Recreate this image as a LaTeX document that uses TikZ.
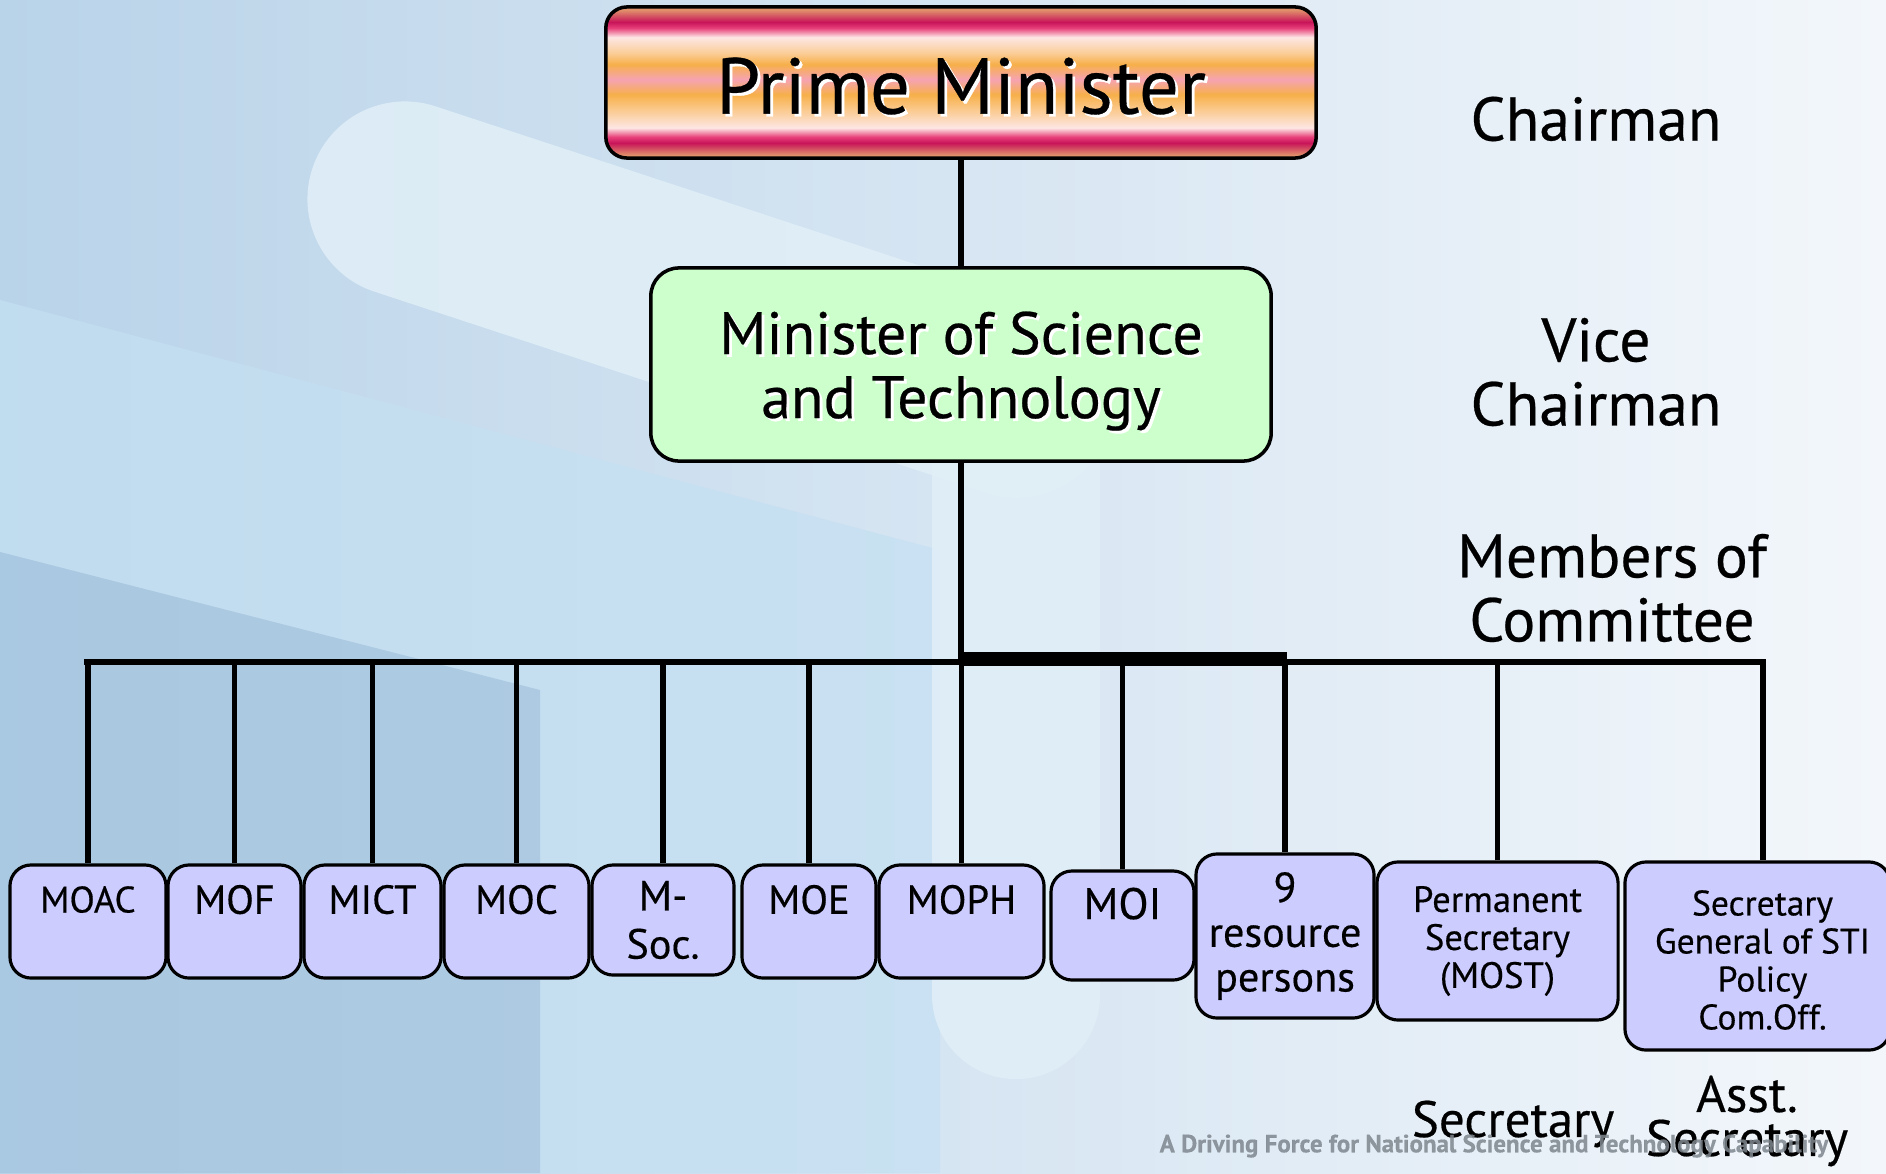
\documentclass[tikz,border=0pt]{standalone}
\usepackage{fontspec}
\setmainfont{PT Sans}[FakeBold=0.4]
\usetikzlibrary{positioning}

\definecolor{bgleft}{HTML}{B9D3E9}
\definecolor{bgmid}{HTML}{D2E2F1}
\definecolor{bgright}{HTML}{F3F7FB}
\definecolor{bglight}{HTML}{C4E0F2}
\definecolor{bgdark}{HTML}{A6C6DF}
\definecolor{bgpale}{HTML}{E1EFF7}
\definecolor{pmtan}{HTML}{E0906A}
\definecolor{pmmagenta}{HTML}{C8145A}
\definecolor{pmred}{HTML}{E8407A}
\definecolor{pmpale}{HTML}{FDE6E4}
\definecolor{pmpeach}{HTML}{FBCF9C}
\definecolor{pmorange}{HTML}{F7B04A}
\definecolor{pmpink}{HTML}{F6A3B2}
\definecolor{mostfill}{HTML}{CCFFCC}
\definecolor{memberfill}{HTML}{CCCCFF}
\definecolor{mottogray}{HTML}{7E868E}

\pgfdeclareverticalshading{pmstripes}{100bp}{color(0bp)=(pmtan); color(26bp)=(pmtan);
  color(30bp)=(pmmagenta); color(32bp)=(pmred); color(35bp)=(pmpale); color(40bp)=(pmpeach);
  color(46bp)=(pmorange); color(51bp)=(pmpink); color(56bp)=(pmorange); color(60bp)=(pmpeach);
  color(65bp)=(pmpale); color(68bp)=(pmred); color(70bp)=(pmmagenta); color(74bp)=(pmtan);
  color(100bp)=(pmtan)}

\newcommand{\shadowed}[1]{\makebox[0pt][l]{\hspace{0.8pt}\raisebox{-0.8pt}{\color{white}#1}}#1}

\tikzstyle{chief} = [rectangle, rounded corners=6pt, draw=black, line width=1pt, shading=pmstripes, minimum width=7.1cm, minimum height=1.51cm]
\tikzstyle{chieftext} = [yshift=-0.05cm, font=\fontsize{22.5}{26}\selectfont]
\tikzstyle{vice} = [rectangle, rounded corners=8pt, draw=black, line width=1pt, fill=mostfill, minimum width=6.2cm, minimum height=1.93cm]
\tikzstyle{vicetext} = [yshift=-0.08cm, align=center, font=\fontsize{17}{18.2}\selectfont]
\tikzstyle{member} = [rectangle, rounded corners=6pt, draw=black, line width=0.9pt, fill=memberfill, inner sep=0pt, align=center, font=\fontsize{11.5}{12.6}\selectfont]
\tikzstyle{role} = [align=center, font=\fontsize{17.5}{18.2}\selectfont]
\tikzstyle{link} = [line width=1.5pt]

\begin{document}
\begin{tikzpicture}[x=0.01cm, y=-0.01cm]
\useasboundingbox (0,0) rectangle (1886,1173);
% background
\shade [left color=bgleft, middle color=bgmid, right color=bgright] (0,0) rectangle (1886,1173);
\fill [bglight, opacity=0.7] (0,300) -- (940,550) -- (940,1173) -- (540,1173) -- (540,690) -- (0,552) -- cycle;
\fill [bgdark, opacity=0.8] (0,552) -- (540,690) -- (540,1173) -- (0,1173) -- cycle;
\draw [bgpale, opacity=0.85, line width=1.95cm, line cap=round] (405,199) -- (1016,400);
\draw [bgpale, opacity=0.85, line width=1.68cm, line cap=round] (1016,420) -- (1016,995);

% chairman and vice chairman
\node (pm) [chief, label={[chieftext]center:\shadowed{Prime Minister}}] at (961,82.5) {};
\node (most) [vice, label={[vicetext]center:\shadowed{Minister of Science}\\\shadowed{and Technology}}] at (961,364.5) {};

% members
\node (moac) [member, minimum width=1.56cm, minimum height=1.13cm, font=\fontsize{10.5}{12.6}\selectfont] at (88,921.5) {MOAC\\\mbox{}};
\node (mof) [member, minimum width=1.33cm, minimum height=1.13cm] at (234.5,921.5) {MOF\\\mbox{}};
\node (mict) [member, minimum width=1.37cm, minimum height=1.13cm] at (372.5,921.5) {MICT\\\mbox{}};
\node (moc) [member, minimum width=1.45cm, minimum height=1.13cm] at (516.5,921.5) {MOC\\\mbox{}};
\node (msoc) [member, minimum width=1.42cm, minimum height=1.10cm, font=\fontsize{12}{13.7}\selectfont] at (663,920) {M-\\Soc.};
\node (moe) [member, minimum width=1.34cm, minimum height=1.13cm] at (809,921.5) {MOE\\\mbox{}};
\node (moph) [member, minimum width=1.65cm, minimum height=1.13cm] at (961.5,921.5) {MOPH\\\mbox{}};
\node (moi) [member, minimum width=1.43cm, minimum height=1.09cm, font=\fontsize{12.5}{12.6}\selectfont] at (1122.5,925.5) {MOI\\\mbox{}};
\node (res) [member, minimum width=1.78cm, minimum height=1.64cm, font=\fontsize{12}{12.7}\selectfont] at (1285,936) {9\\resource\\persons};
\node (perm) [member, minimum width=2.41cm, minimum height=1.58cm, font=\fontsize{10.4}{10.8}\selectfont] at (1497.5,941) {Permanent\\Secretary\\(MOST)};
\node (sg) [member, minimum width=2.65cm, minimum height=1.88cm,
  label={[xshift=0.05cm, yshift=-0.04cm, align=center, font=\fontsize{10.1}{10.8}\selectfont]center:Secretary\\General of STI\\Policy\\Com.Off.}] at (1757.5,956) {};

% role labels
\node (chair) [role] at (1596,119) {Chairman};
\node (vchair) [role] at (1596,372) {Vice\\Chairman};
\node (board) [role] at (1612,588) {Members of\\Committee};
\node (sec) [font=\fontsize{14.5}{15}\selectfont] at (1513,1124) {Secretary};
\node (asst) [align=center, font=\fontsize{14.5}{12.5}\selectfont] at (1747,1121) {Asst.\\Secretary};
\node (motto) [text=mottogray, opacity=0.85, font=\fontsize{7.1}{8}\selectfont\bfseries] at (1494,1146) {A Driving Force for National Science and Technology Capability};

% connectors
\coordinate (busL) at (87,662);
\coordinate (busR) at (1763,662);
\draw [link] (pm) -- (most);
\draw [link] (most.south) -- (most.south |- busL);
\draw [link, line cap=rect] (busL) -- (busR);
\draw [line width=3.8pt] (961,659) -- (1287,659);
\foreach \m in {moac,mof,mict,moc,msoc,moe,moph,moi,res,perm}
  \draw [link] (\m.north) -- (\m.north |- busL);
\draw [link] ([xshift=0.055cm]sg.north) -- ([xshift=0.055cm]sg.north |- busL);
\end{tikzpicture}
\end{document}
